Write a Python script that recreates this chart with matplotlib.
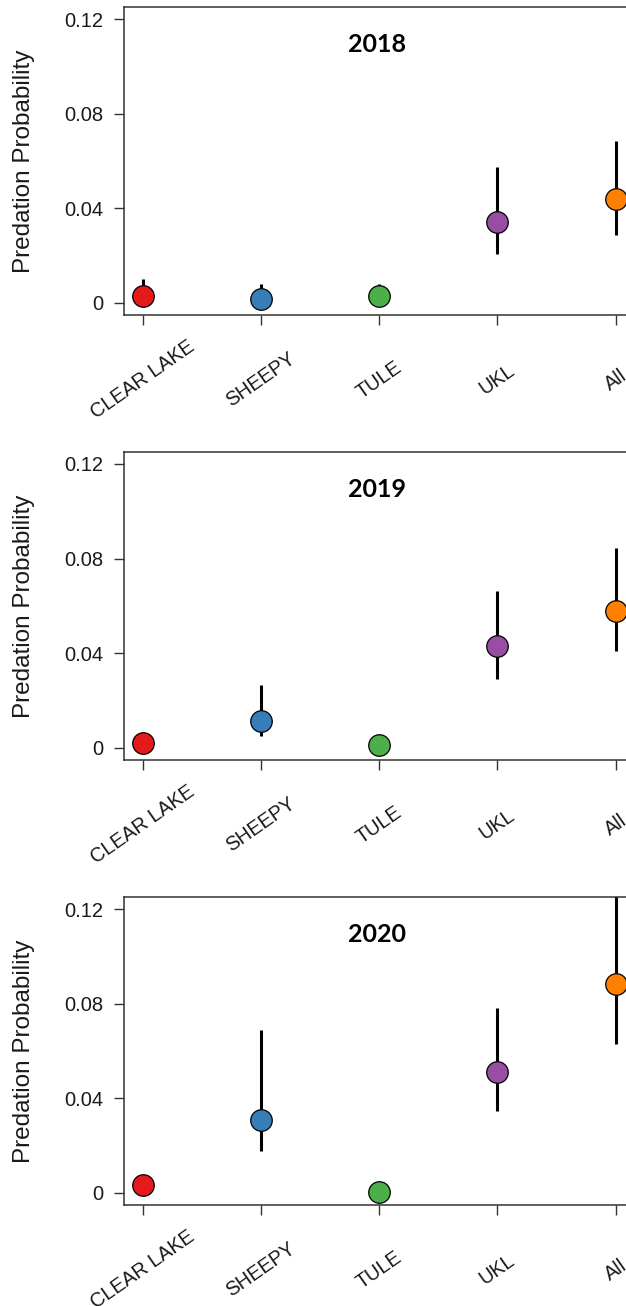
import matplotlib
matplotlib.use('Agg')
import matplotlib.pyplot as plt

# data
sites = ['CLEAR LAKE', 'SHEEPY', 'TULE', 'UKL', 'All']
site_colors = ['#E41A1C', '#377EB8', '#4DAF4A', '#984EA3', '#FF7F00']
years = ['2018', '2019', '2020']

mean_2018 = [0.0030, 0.0017, 0.0030, 0.0340, 0.0439]
low_2018 = [0.0, 0.0, 0.0, 0.0204, 0.0285]
high_2018 = [0.0100, 0.0080, 0.0079, 0.0574, 0.0682]

mean_2019 = [0.0020, 0.0111, 0.0010, 0.0432, 0.0580]
low_2019 = [0.0, 0.0048, 0.0, 0.0290, 0.0410]
high_2019 = [0.0030, 0.0263, 0.0020, 0.0662, 0.0845]

mean_2020 = [0.0031, 0.0309, 0.0003, 0.0509, 0.0882]
low_2020 = [0.0, 0.0176, 0.0, 0.0347, 0.0629]
high_2020 = [0.0077, 0.0689, 0.0005, 0.0783, 0.1300]

yticks = [0, 0.04, 0.08, 0.12]
ytick_labels = ['0', '0.04', '0.08', '0.12']

plt.rcParams['font.family'] = ['Liberation Sans', 'DejaVu Sans']

fig = plt.figure(figsize=(6.26, 13.06), dpi=100)
panel_bottoms = [0.7588, 0.4181, 0.0773]
panels = [(mean_2018, low_2018, high_2018),
          (mean_2019, low_2019, high_2019),
          (mean_2020, low_2020, high_2020)]

xs = list(range(1, len(sites) + 1))
ink = '#1a1a1a'
edge = '#333333'

for year, bottom, (m, lo, hi) in zip(years, panel_bottoms, panels):
    ax = fig.add_axes([0.198, bottom, 0.8153, 0.2357])
    ax.vlines(xs, lo, hi, color='black', lw=2.2, zorder=2)
    for x, y, c in zip(xs, m, site_colors):
        ax.plot(x, y, 'o', ms=15.5, mfc=c, mec='black', mew=0.9, zorder=3)

    ax.set_xlim(0.842, 5.158)
    ax.set_ylim(-0.0052, 0.125)
    ax.set_yticks(yticks)
    ax.set_yticklabels(ytick_labels, fontsize=14.5, color=ink)
    ax.set_xticks(xs)
    ax.set_xticklabels(sites, fontsize=14.2, color=ink, rotation=35,
                       rotation_mode='anchor', ha='center', va='center')
    ax.tick_params(axis='x', length=7.2, width=1.0, color=edge, pad=39.5)
    ax.tick_params(axis='y', length=7.2, width=1.0, color=edge, pad=7.5)
    for s in ax.spines.values():
        s.set_color(edge)
        s.set_linewidth(1.1)

    ax.text(-0.195, 0.5, 'Predation Probability', transform=ax.transAxes,
            rotation=90, ha='center', va='center', fontsize=17.5, color=ink)
    ax.text(2.98, 0.853, year, transform=ax.get_xaxis_transform(),
            ha='center', va='baseline', fontsize=18, fontweight='bold',
            family=['Lato', 'DejaVu Sans'], color='black')

fig.savefig('out.png', dpi=100)
